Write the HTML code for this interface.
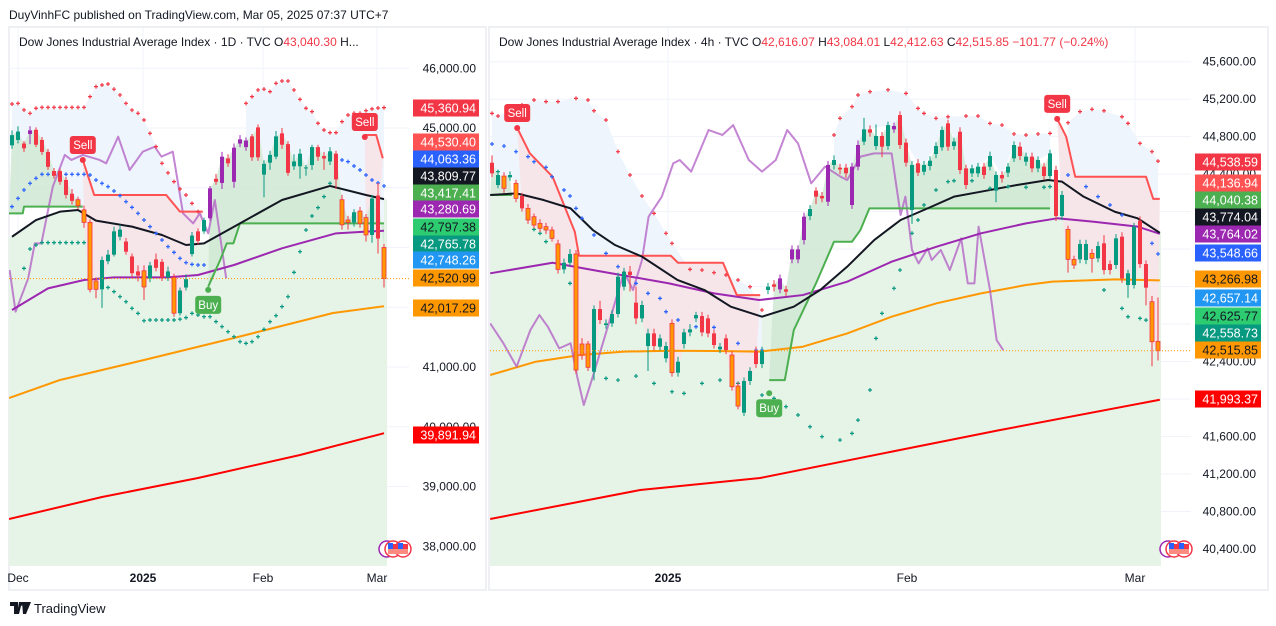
<!DOCTYPE html>
<html><head><meta charset="utf-8">
<style>
html,body{margin:0;padding:0;background:#fff;width:1276px;height:626px;overflow:hidden;font-family:"Liberation Sans",sans-serif;}
svg{position:absolute;left:0;top:0;}
text{font-family:"Liberation Sans",sans-serif;}
</style></head>
<body>
<svg id="chart" width="1276" height="626" viewBox="0 0 1276 626" xmlns="http://www.w3.org/2000/svg"></svg>
<script>
// ===== LEFT PANEL (1D) DATA =====
const typeL = ['g','g','r','p','r','r','r','r','r','r','r','o','o','o','o','g','g','g','g','r','r','r','o','g','r','r','g','o','g','g','g','r','g','p','r','p','r','p','p','p','r','r','g','g','g','r','r','g','g','g','g','r','r','g','r','o','o','g','o','o','g','r','o'];
const openL = [44710,44800,44740,44900,44970,44800,44600,44280,44280,44130,43900,43800,43630,43420,42440,42300,42770,42880,43180,43100,42850,42600,42610,42480,42800,42760,42500,42500,41900,42330,42890,43270,43270,43490,44150,44080,44490,44100,44740,44790,44860,45010,44220,44420,44520,44910,44730,44360,44360,44340,44380,44680,44530,44440,44570,43800,43460,43420,43610,43500,43210,43870,43000];
const highL = [44960,45030,44780,45030,45010,44850,44650,44330,44320,44180,43980,43850,43700,43470,42500,42850,42960,43350,43380,43160,42900,42700,42700,42760,42900,42810,42680,42560,42330,42550,43260,43320,43500,44030,44230,44600,44560,44740,44880,44840,44900,45060,44460,44620,44950,45000,44780,44560,44650,44380,44720,44720,44600,44680,44620,43880,43530,43640,43680,43560,43880,44080,43060];
const lowL = [44650,44740,44600,44730,44680,44550,44300,44150,44050,43820,43720,43640,43330,42250,42150,41990,42720,42850,43120,42880,42500,42430,42120,42420,42600,42440,42440,41840,41860,42280,42850,43050,43230,43450,44050,43980,44350,44000,44680,44620,44450,44450,43840,44300,44480,44650,44200,44300,44150,44200,44300,44450,44300,44380,43980,43300,43300,43350,43330,43100,43080,42900,42330];
const closeL = [44880,44940,44660,44960,44720,44600,44350,44200,44100,43880,43780,43700,43420,42300,42300,42790,42880,43270,43300,42930,42570,42530,42340,42700,42660,42500,42600,41900,42280,42470,43200,43110,43460,43990,44100,44520,44410,44670,44810,44680,44510,44510,44400,44550,44860,44720,44250,44440,44570,44330,44680,44520,44490,44610,44140,43380,43420,43590,43400,43210,43820,43150,42480];
const blackIdxL = [0,4,8,11,14,20,25,29,32,38,45,53,59,62];
const blackValL = [43180,43460,43600,43628,43450,43349,43209,43042,43070,43404,43795,44030,43879,43810];
const purpleIdxL = [0,6,12,17,26,31,37,45,54,59,62];
const purpleValL = [41954,42316,42456,42500,42500,42540,42707,42986,43237,43265,43281];
const orangeIdxL = [-0.5,8,22,37,53.5,62];
const orangeValL = [40481,40783,41117,41485,41904,42017];
const redIdxL = [-0.5,15,31,48,62];
const redValL = [38456,38824,39142,39527,39892];
const gStepIdxL = [[-0.5,1.8,2,11.8],[32.7,34.7,35.8,36.9,38,62]];
const gStepValL = [[43572,43572,43684,43684],[42344,42791,43070,43070,43404,43404]];
const rStepIdxL = [[11.8,13.7,25.7,28,31.8],[58.8,60.7,61.8]];
const rStepValL = [[44465,43879,43879,43600,43600],[44883,44883,44493]];
const lavIdxL = [-0.4,0.6,2.7,3.8,4.9,6.8,8.8,9.9,11.8,14.6,15.7,17.7,19.6,21.8,23.8,24.9,26.8,28.5,30.2,31.3,32.7,33.8,35.7];
const lavValL = [42623,41926,42484,43070,43070,44018,44549,44465,44549,44465,44409,44855,44297,44604,44688,44521,44604,43572,43404,43572,43237,43795,42484];
const redDotIdxL = [[0,1,2,3,4,5,6,7,8,9,10,11,12,13,14,15,16,17,18,19,20,21,22,23,24,25,26,27,28,29,30,31],[39,40,41,42,43,44,45,46,47,48,49,50,51,52,53,54,55,56,57,58,59,60,61,62]];
const redDotValL = [[45402,45413,45302,45246,45330,45346,45346,45346,45346,45346,45346,45346,45346,45525,45692,45720,45737,45650,45553,45413,45300,45246,45134,44911,44688,44409,44250,44102,43980,43879,43739,43600],[45413,45525,45637,45650,45609,45748,45787,45787,45637,45480,45330,45274,45079,44967,44922,44922,45107,45218,45246,45246,45290,45320,45335,45341]];
const blueDotIdxL = [[0,1,2,3,4,5,6,7,8,9,10,11,12,13,14,15,16,17,18,19,20,21,22,23,24,25,26,27,28,29,30,31,32],[55,56,57,58,59,60,61,62]];
const blueDotValL = [[43684,43823,43963,44074,44158,44225,44225,44225,44225,44225,44225,44225,44225,44214,44130,44074,44018,43946,43868,43767,43672,43572,43460,43349,43237,43126,43014,42919,42819,42746,42718,42707,42707],[44465,44437,44364,44297,44214,44130,44080,44030]];
const greenDotIdxL = [[2,3,4,5,6,7,8,9,10,11,12],[16,17,18,19,20,21,22,23,24,25,26,27,28,29,30,31,32],[33,34,35,36,37,38,39,40,41,42,43,44,45,46,47,48,49,50,51,52,53,54]];
const greenDotValL = [[42651,42975,43042,43081,43081,43081,43081,43081,43081,43081,43081],[42330,42261,42177,42093,41982,41898,41775,41787,41787,41787,41787,41787,41800,41826,41898,41870,41842],[41842,41760,41675,41591,41507,41424,41396,41424,41507,41630,41758,41859,42010,42177,42584,42930,43293,43527,43667,43851,44074,44175]];

// ===== RIGHT PANEL (4h) DATA =====
const typeR = ['r','g','o','g','o','r','o','o','o','o','o','o','g','g','o','o','o','g','r','g','g','g','g','r','r','g','g','r','g','g','o','g','g','g','g','r','r','r','g','r','o','o','g','g','r','g','g','r','p','r','p','p','p','g','r','r','p','g','r','r','p','p','g','r','g','r','g','p','r','r','g','r','g','g','g','g','r','g','r','r','g','g','r','g','g','r','g','g','r','g','r','g','r','g','r','g','o','o','g','g','o','g','r','r','g','r','g','g','r','r','o','o'];
const openR = [44522,44284,44380,44366,44302,44167,44035,43946,43875,43840,43804,43655,43384,43455,43548,42588,42588,42292,42961,42790,42808,42908,43199,43360,43029,42861,42566,42701,42559,42435,42808,42282,42588,42712,42861,42886,42861,42701,42531,42648,42470,42139,41855,42193,42516,42374,43164,43224,43171,43171,43491,43491,43697,43953,44224,44167,44106,44498,44469,44469,44071,44480,44747,44878,44700,44807,44700,44878,45031,44736,44017,44516,44426,44487,44615,44686,44942,44700,44853,44462,44409,44409,44480,44480,44224,44391,44416,44569,44693,44533,44587,44462,44480,44380,44444,43953,43811,43491,43491,43484,43555,43502,43662,43441,43431,43733,43217,43217,43904,43441,43039,42616];
const highR = [44600,44430,44420,44430,44340,44200,44080,43980,43920,43880,43840,43700,43500,43600,43590,42650,42620,43000,43050,42850,42950,43350,43400,43420,43200,43050,42750,42750,42690,42610,42850,42450,42750,42800,42930,42930,42900,42740,42600,42690,42510,42180,42230,42340,42560,42560,43240,43270,43330,43210,43640,43640,43990,44070,44260,44210,44540,44600,44510,44510,44520,44760,45000,44920,44930,44850,44960,44950,45070,44780,44540,44560,44540,44590,44740,44910,44980,44790,44900,44500,44500,44520,44520,44640,44430,44430,44520,44750,44740,44630,44630,44590,44520,44660,44490,44220,43850,43530,43700,43700,43600,43680,43750,43480,43760,43780,43380,43880,43950,43480,43100,43084];
const lowR = [44370,44250,44200,44330,44100,44000,43870,43820,43780,43760,43680,43340,43340,43420,42270,42420,42300,42200,42800,42750,42770,42870,43160,43150,42800,42820,42300,42520,42520,42390,42240,42240,42540,42670,42820,42670,42660,42540,42490,42480,42090,41890,41820,42150,42330,42330,43120,43150,43130,43100,43450,43450,43650,43910,44080,44100,44060,44450,44400,44360,44030,44440,44710,44800,44660,44580,44660,44840,44670,44480,43870,44380,44390,44440,44570,44650,44650,44660,44400,44240,44370,44370,44350,44440,44100,44310,44370,44530,44550,44490,44420,44420,44340,44340,43900,43910,43350,43390,43450,43440,43350,43460,43330,43330,43390,43240,43080,43180,43400,43000,42350,42412];
const closeR = [44409,44391,44249,44391,44142,44035,43911,43857,43822,43804,43715,43384,43455,43548,42310,42470,42339,42961,42844,42808,42908,43306,43360,43324,42861,43004,42701,42566,42648,42566,42282,42399,42712,42744,42897,42712,42701,42577,42559,42524,42132,41926,42193,42300,42374,42516,43199,43199,43288,43146,43597,43597,43946,44028,44160,44142,44498,44551,44451,44409,44480,44711,44878,44843,44807,44693,44924,44914,44711,44523,44498,44416,44498,44544,44700,44871,44693,44747,44444,44284,44462,44480,44391,44594,44391,44355,44480,44711,44594,44587,44462,44551,44380,44622,43953,44178,43491,43431,43655,43655,43502,43633,43377,43377,43715,43288,43342,43840,43441,43189,42612,42516];
const blackIdxR = [-0.3,4.1,8.6,13.1,16.8,20.5,25,30.9,35.4,39.8,45,50.3,54.7,59.2,63.7,68.1,72.6,77,81.5,87.5,92.7,95,98.6,103.8,107.6,111.3];
const blackValR = [44178,44195,44124,44035,43804,43644,43520,43271,43164,42986,42879,42986,43164,43413,43697,43911,44035,44160,44213,44284,44338,44320,44160,43999,43929,43774];
const purpleIdxR = [-0.3,10.1,18.3,29.5,37,44.5,51.8,59.2,66.6,74.1,81.5,89,94.2,100.1,107.6,111.3];
const purpleValR = [43342,43455,43360,43235,43128,43057,43110,43253,43466,43626,43769,43875,43929,43893,43840,43764];
const orangeIdxR = [-0.3,7.3,14.7,22,29.5,37,44.5,51.8,59.2,66.6,74.1,81.5,89,93.4,103.8,111.3];
const orangeValR = [42257,42399,42470,42506,42516,42513,42506,42559,42701,42879,43022,43128,43217,43253,43278,43267];
const redIdxR = [-0.3,24.7,44.7,68,84.7,111.3];
const redValR = [40721,41030,41158,41457,41670,41993];
const gStepIdxR = [[-0.3,3.3],[46.2,48.8,50.3,54,57,60,61.4,62.9,93]];
const gStepValR = [[44178,44178],[42203,42203,42737,43235,43679,43679,43804,44035,44035]];
const rStepIdxR = [[4.2,6.3,10.1,13.8,14.5,29.8,31,38.5,40.8,44.7],[94.2,95.7,97.2,109,110.2,111.3]];
const rStepValR = [[44893,44622,44373,43786,43530,43530,43455,43455,43110,43110],[44990,44800,44373,44373,44137,44137]];
const lavIdxR = [-0.3,1.9,4.1,6.4,7.9,9.3,11.2,13.1,14.2,15.3,16.8,19.8,22,23.5,25,26.1,28.3,30.2,31.3,33.2,36.1,38.4,40.2,42.8,45,47.3,49.2,51,53.2,55.5,58.1,59.2,61.4,63.7,66.6,68.1,68.9,70,71.1,72.6,73.3,74.8,76.3,78.2,79.3,80.4,81.1,83,84.1,85.2];
const lavValR = [42808,42595,42346,42737,42897,42773,42541,42595,42239,41937,42239,42879,43359,43164,43484,43946,44160,44515,44551,44427,44871,44818,44924,44551,44427,44551,44871,44729,44302,44480,44373,44338,44587,44622,44622,43964,44160,43591,43448,43608,43484,43591,43377,43715,43235,43235,43840,43164,42630,42523];
const redDotIdxR = [[0,1,3,5,7,9,11,14,16,17,19,21,23,25,27,29,30,33,35,37,39,41,43,45],[57,58,60,61,63,66,69,71,72,74,76,79,81,83,85,87,89,91,93],[96,98,100,102,105,106,108,110,111]];
const redDotValR = [[45049,45021,45085,45138,45191,45174,45174,45209,45191,45077,44978,44640,44391,44167,43982,43769,43662,43384,43377,43349,43324,43271,43199,42950],[44818,44996,45120,45245,45280,45300,45262,45102,45049,44996,45013,45021,45021,44942,44924,44829,44818,44829,44835],[44949,45067,45092,45077,45013,44942,44729,44640,44539]];
const blueDotIdxR = [[0,2,4,6,7,9,10,12,13,14,15,17,19,21,22,24,26,28,29,31,34,35,37,39,41,44,45],[96,99,101,103,105,108,110,111]];
const blueDotValR = [[44722,44700,44640,44587,44533,44473,44373,44231,44167,44035,43929,43751,43555,43413,43306,43235,43128,43075,42932,42844,42772,42765,42765,42630,42595,42523,42523],[44391,44267,44160,44071,43964,43857,43662,43549]];
const greenDotIdxR = [[0,1],[7,8,9,13],[19,21,24,27,30,32,35,38,41,45],[47,49,51,53,55,58,60,61,63,64,65,67,68,70,71,72,74,76,77,80,83,86,89,92,93],[102,105,106,108,109]];
const greenDotValR = [[44462,44427],[43811,43769,43680,43235],[42221,42203,42246,42168,42079,42061,42168,42203,42168,42043],[42008,41919,41830,41705,41599,41563,41634,41776,42097,42648,42915,43182,43377,43769,43911,44071,44231,44320,44330,44330,44249,44267,44260,44260,44267],[43164,42968,42879,42861,42843]];

// ===== RENDERING =====
const NS = 'http://www.w3.org/2000/svg';
const svg = document.getElementById('chart');
function mk(tag, attrs, parent) {
  const e = document.createElementNS(NS, tag);
  for (const k in attrs) e.setAttribute(k, attrs[k]);
  (parent || svg).appendChild(e);
  return e;
}
function interp(ix, vx, i) {
  if (i <= ix[0]) return vx[0];
  for (let k = 1; k < ix.length; k++) if (i <= ix[k]) { const t = (i - ix[k-1]) / (ix[k] - ix[k-1]); return vx[k-1] + t * (vx[k] - vx[k-1]); }
  return vx[vx.length - 1];
}
const COL = {g:'#089981', r:'#f23645', o:'#ff9800', p:'#9c27b0'};

function drawPanel(P) {
  const g = mk('g', {});
  
  
  const X = i => P.x0 + i * P.dx;
  const Y = v => P.yTop + (P.vTop - v) * P.scale;
  const clipId = P.name + '-clip';
  const cp = mk('clipPath', {id: clipId}, g);
  mk('rect', {x: P.left, y: 28, width: P.right - P.left, height: 538}, cp);
  // frame
  const fr = mk('rect', {x: P.frameL, y: 27, width: P.frameR - P.frameL, height: 563, fill: 'none', stroke: '#eef0f3', 'stroke-width': 2}, g);
  
  
  // grid
  P.ticks.forEach(t => {
    const l = mk('line', {x1: P.left, x2: P.right, y1: Y(t), y2: Y(t), stroke: '#f0f3fa', 'stroke-width': 1}, g);
    
    
  });
  P.timeX.forEach(tx => {
    const l = mk('line', {x1: tx, x2: tx, y1: 28, y2: 566, stroke: '#f0f3fa', 'stroke-width': 1}, g);
    
    
  });
  const plot = mk('g', {'clip-path': 'url(#' + clipId + ')'}, g);
  
  
  const n = P.close.length;
  const lastI = n - 1;
  // light green base fill: from black line down to bottom
  let d = 'M' + P.left + ',566 L' + P.left + ',' + Y(interp(P.blackIdx, P.blackVal, -1));
  for (let i = 0; i <= lastI; i++) d += ' L' + X(i) + ',' + Y(interp(P.blackIdx, P.blackVal, i));
  d += ' L' + (X(lastI) + 3) + ',' + Y(interp(P.blackIdx, P.blackVal, lastI)) + ' L' + (X(lastI) + 3) + ',566 Z';
  const gf = mk('path', {d: d, fill: '#e6f3e7'}, plot);
  
  
  // blue fill between red dots and closes
  P.redDotIdx.forEach((seg, s) => {
    let pd = '';
    seg.forEach((i, k) => { pd += (k ? ' L' : 'M') + X(i) + ',' + Y(P.redDotVal[s][k]); });
    for (let k = seg.length - 1; k >= 0; k--) { const i = seg[k]; pd += ' L' + X(i) + ',' + Y(Math.max(P.close[i], P.open[i])); }
    const bf = mk('path', {d: pd + ' Z', fill: '#eef5fc'}, plot);
    
    
  });
  // pink fill between red step and closes
  P.rStepIdx.forEach((ix, s) => {
    const a = Math.ceil(ix[0]), b = Math.min(Math.floor(ix[ix.length - 1]), lastI);
    let pd = 'M' + X(ix[0]) + ',' + Y(P.rStepVal[s][0]);
    ix.forEach((i, k) => { pd += ' L' + X(i) + ',' + Y(P.rStepVal[s][k]); });
    for (let i = b; i >= a; i--) pd += ' L' + X(i) + ',' + Y(Math.min(P.close[i], P.open[i]));
    const pf = mk('path', {d: pd + ' Z', fill: '#f6e3e7', 'fill-opacity': 0.9}, plot);
    
    
  });
  // darker green fill between green step and closes
  P.gStepIdx.forEach((ix, s) => {
    const a = Math.max(Math.ceil(ix[0]), 0), b = Math.min(Math.floor(ix[ix.length - 1]), lastI);
    let pd = 'M' + X(ix[0]) + ',' + Y(P.gStepVal[s][0]);
    ix.forEach((i, k) => { pd += ' L' + X(i) + ',' + Y(P.gStepVal[s][k]); });
    for (let i = b; i >= a; i--) pd += ' L' + X(i) + ',' + Y(Math.max(P.close[i], P.open[i]));
    const pf = mk('path', {d: pd + ' Z', fill: '#cfe8d3', 'fill-opacity': 0.85}, plot);
    
    
  });
  // lines
  function line(ix, vx, color, w, nm, op) {
    let pd = '';
    ix.forEach((i, k) => { pd += (k ? ' L' : 'M') + X(i) + ',' + Y(vx[k]); });
    const l = mk('path', {d: pd, fill: 'none', stroke: color, 'stroke-width': w, 'stroke-linejoin': 'round', opacity: op || 1}, plot);
    
    
  }
  line(P.redIdx, P.redVal, '#ff0000', 2, 'ma-red-line');
  line(P.orangeIdx, P.orangeVal, '#ff9800', 2, 'ma-orange-line');
  line(P.lavIdx, P.lavVal, '#b05cc4', 2, 'oscillator-line', 0.75);
  line(P.purpleIdx, P.purpleVal, '#9c27b0', 2, 'ma-purple-line');
  P.gStepIdx.forEach((ix, s) => line(ix, P.gStepVal[s], '#4caf50', 2, 'supertrend-up-line'));
  P.rStepIdx.forEach((ix, s) => line(ix, P.rStepVal[s], '#ff5252', 2, 'supertrend-down-line'));
  line(P.blackIdx, P.blackVal, '#131722', 2, 'ma-black-line');
  // dots
  function dots(ixs, vxs, color, nm) {
    ixs.forEach((seg, s) => seg.forEach((i, k) => {
      const x = X(i), y = Y(vxs[s][k]);
      const c = mk('path', {d: 'M' + (x - 2) + ',' + y + 'H' + (x + 2) + 'M' + x + ',' + (y - 2) + 'V' + (y + 2), stroke: color, 'stroke-width': 1.2}, plot);
      
      
    }));
  }
  dots(P.redDotIdx, P.redDotVal, '#f23645', 'upper-band-dot');
  dots(P.blueDotIdx, P.blueDotVal, '#2962ff', 'middle-band-dot');
  dots(P.greenDotIdx, P.greenDotVal, '#089981', 'lower-band-dot');
  // candles
  for (let i = 0; i < n; i++) {
    const t = P.type[i], x = X(i);
    const top = Y(Math.max(P.open[i], P.close[i])), bot = Y(Math.min(P.open[i], P.close[i]));
    const wc = t === 'o' ? '#f23645' : (t === 'p' ? '#9c27b0' : COL[t]);
    const w = mk('line', {x1: x, x2: x, y1: Y(P.high[i]), y2: Y(P.low[i]), stroke: wc, 'stroke-width': 1}, plot);
    
    
    const b = mk('rect', {x: x - 2, y: top, width: 4, height: Math.max(bot - top, 1), fill: COL[t], stroke: wc, 'stroke-width': t === 'o' ? 0.8 : 0}, plot);
    
    
  }
  // last price dotted line
  const lp = mk('line', {x1: P.left, x2: P.right, y1: Y(P.close[lastI]), y2: Y(P.close[lastI]), stroke: '#ff9800', 'stroke-width': 1, 'stroke-dasharray': '1,2'}, g);
  
  
  // signal labels
  P.signals.forEach(sg => {
    const x = X(sg.i), y = Y(sg.v);
    const col = sg.t === 'Sell' ? '#f23645' : '#4caf50';
    const sgG = mk('g', {}, g);
    
    
    mk('circle', {cx: x, cy: y, r: 3, fill: col}, sgG);
    const by = sg.t === 'Sell' ? y - 24 : y + 6;
    mk('rect', {x: x - 13, y: by, width: 26, height: 18, rx: 3, fill: col}, sgG);
    const tx = mk('text', {x: x, y: by + 13, 'text-anchor': 'middle', 'font-size': 11.5, fill: '#fff'}, sgG);
    tx.textContent = sg.t;
  });
  // axis tick labels
  P.tickLabels.forEach((tl, k) => {
    const t = mk('text', {x: P.axisX, y: Y(P.tickLabelVals[k]) + 4, 'text-anchor': 'end', 'font-size': 12, fill: '#131722'}, g);
    
    
    t.textContent = tl;
  });
  // price labels
  P.priceLabels.forEach((pl, k) => {
    const y = P.priceLabelY[k];
    const lg = mk('g', {}, g);
    
    
    mk('rect', {x: P.labX, y: y - 8.5, width: 66, height: 17, fill: P.priceLabelCol[k]}, lg);
    const t = mk('text', {x: P.labX + 63, y: y + 4.5, 'text-anchor': 'end', 'font-size': 12.5, fill: P.priceLabelTxt[k]}, lg);
    t.textContent = pl;
  });
  // time labels
  P.timeLabels.forEach((tl, k) => {
    const t = mk('text', {x: P.timeX[k], y: 582, 'text-anchor': 'middle', 'font-size': 12, fill: '#131722', 'font-weight': tl === '2025' ? 'bold' : 'normal'}, g);
    
    
    t.textContent = tl;
  });
  // event flags
  const fg = mk('g', {}, g);
  
  
  [[0, '#9c27b0'], [6, '#f23645'], [16, '#f23645']].forEach(([o, c]) => {
    mk('circle', {cx: P.flagX + o, cy: 549, r: 8, fill: '#fff', stroke: c, 'stroke-width': 1.5}, fg);
  });
  [6, 16].forEach(o => {
    mk('rect', {x: P.flagX + o - 5, y: 544, width: 10, height: 5, fill: '#f23645'}, fg);
    mk('rect', {x: P.flagX + o - 5, y: 549, width: 10, height: 5, fill: '#ff8a80'}, fg);
    mk('rect', {x: P.flagX + o - 5, y: 543, width: 5, height: 6, fill: '#2962ff'}, fg);
  });
  // legend
  const lgd = mk('text', {x: P.frameL + 10, y: 46, 'font-size': 12, fill: '#131722'}, g);
  
  
  P.legend.forEach(([s, c]) => { const ts = mk('tspan', {fill: c}, lgd); ts.textContent = s; });
}

drawPanel({
  name: 'daily-chart-panel', frameL: 9, frameR: 486, left: 9, right: 409, x0: 12, dx: 6,
  yTop: 128, vTop: 45000, scale: 0.05975, axisX: 476, labX: 413, flagX: 387,
  type: typeL, open: openL, high: highL, low: lowL, close: closeL,
  blackIdx: blackIdxL, blackVal: blackValL, purpleIdx: purpleIdxL, purpleVal: purpleValL,
  orangeIdx: orangeIdxL, orangeVal: orangeValL, redIdx: redIdxL, redVal: redValL,
  gStepIdx: gStepIdxL, gStepVal: gStepValL, rStepIdx: rStepIdxL, rStepVal: rStepValL,
  lavIdx: lavIdxL, lavVal: lavValL,
  redDotIdx: redDotIdxL, redDotVal: redDotValL, blueDotIdx: blueDotIdxL, blueDotVal: blueDotValL,
  greenDotIdx: greenDotIdxL, greenDotVal: greenDotValL,
  ticks: [46000, 45000, 44000, 43000, 42000, 41000, 40000, 39000, 38000],
  tickLabels: ['46,000.00', '45,000.00', '41,000.00', '40,000.00', '39,000.00', '38,000.00'],
  tickLabelVals: [46000, 45000, 41000, 40000, 39000, 38000],
  priceLabels: ['45,360.94', '44,530.40', '44,063.36', '43,809.77', '43,417.41', '43,280.69', '42,797.38', '42,765.78', '42,748.26', '42,520.99', '42,017.29', '39,891.94'],
  priceLabelY: [108, 142, 159, 176, 193, 209, 227, 244, 260, 278, 308, 435],
  priceLabelCol: ['#f23645', '#ff5252', '#2962ff', '#131722', '#4caf50', '#9c27b0', '#2ecc71', '#089981', '#2196f3', '#ff9800', '#ff9800', '#ff0000'],
  priceLabelTxt: ['#fff', '#fff', '#fff', '#fff', '#fff', '#fff', '#131722', '#fff', '#fff', '#131722', '#131722', '#fff'],
  timeLabels: ['Dec', '2025', 'Feb', 'Mar'], timeX: [18, 143, 263, 377],
  signals: [{t: 'Sell', i: 11.8, v: 44465}, {t: 'Sell', i: 58.8, v: 44850}, {t: 'Buy', i: 32.7, v: 42290}],
  legend: [['Dow Jones Industrial Average Index · 1D · TVC  O', '#131722'], ['43,040.30', '#f23645'], ['  H...', '#131722']]
});

drawPanel({
  name: '4h-chart-panel', frameL: 489, frameR: 1268, left: 490, right: 1191, x0: 492, dx: 6,
  yTop: 61.7, vTop: 45600, scale: 1 / 10.67, axisX: 1256, labX: 1195, flagX: 1168,
  type: typeR, open: openR, high: highR, low: lowR, close: closeR,
  blackIdx: blackIdxR, blackVal: blackValR, purpleIdx: purpleIdxR, purpleVal: purpleValR,
  orangeIdx: orangeIdxR, orangeVal: orangeValR, redIdx: redIdxR, redVal: redValR,
  gStepIdx: gStepIdxR, gStepVal: gStepValR, rStepIdx: rStepIdxR, rStepVal: rStepValR,
  lavIdx: lavIdxR, lavVal: lavValR,
  redDotIdx: redDotIdxR, redDotVal: redDotValR, blueDotIdx: blueDotIdxR, blueDotVal: blueDotValR,
  greenDotIdx: greenDotIdxR, greenDotVal: greenDotValR,
  ticks: [45600, 45200, 44800, 44400, 44000, 43600, 43200, 42800, 42400, 42000, 41600, 41200, 40800, 40400],
  tickLabels: ['45,600.00', '45,200.00', '44,800.00', '44,400.00', '43,600.00', '42,400.00', '41,600.00', '41,200.00', '40,800.00', '40,400.00'],
  tickLabelVals: [45600, 45200, 44800, 44400, 43600, 42400, 41600, 41200, 40800, 40400],
  priceLabels: ['44,538.59', '44,136.94', '44,040.38', '43,774.04', '43,764.02', '43,548.66', '43,266.98', '42,657.14', '42,625.77', '42,558.73', '42,515.85', '41,993.37'],
  priceLabelY: [162, 183, 200, 217, 234, 253, 279, 298, 316, 333, 350, 399],
  priceLabelCol: ['#f23645', '#ff5252', '#4caf50', '#131722', '#9c27b0', '#2962ff', '#ff9800', '#2196f3', '#2ecc71', '#089981', '#ff9800', '#ff0000'],
  priceLabelTxt: ['#fff', '#fff', '#fff', '#fff', '#fff', '#fff', '#131722', '#fff', '#131722', '#fff', '#131722', '#fff'],
  timeLabels: ['2025', 'Feb', 'Mar'], timeX: [668, 907, 1135],
  signals: [{t: 'Sell', i: 4.2, v: 44893}, {t: 'Sell', i: 94.2, v: 44990}, {t: 'Buy', i: 46.2, v: 42063}],
  legend: [['Dow Jones Industrial Average Index · 4h · TVC  O', '#131722'], ['42,616.07', '#f23645'], ['  H', '#131722'], ['43,084.01', '#f23645'], ['  L', '#131722'], ['42,412.63', '#f23645'], ['  C', '#131722'], ['42,515.85', '#f23645'], ['  −101.77 (−0.24%)', '#f23645']]
});

// header & footer
const hdr = mk('text', {x: 9, y: 19, 'font-size': 12, fill: '#131722'});


hdr.textContent = 'DuyVinhFC published on TradingView.com, Mar 05, 2025 07:37 UTC+7';
const logo = mk('g', {});


mk('path', {d: 'M10,602h8v12h-4v-8h-4z M19,602h3l-3,12h-2z M22,602h9l-5,12h-3z', fill: '#131722'}, logo);
mk('circle', {cx: 21, cy: 604, r: 1.8, fill: '#131722'}, logo);
const lt = mk('text', {x: 34, y: 613, 'font-size': 13, fill: '#131722'}, logo);
lt.textContent = 'TradingView';
</script>
</body></html>
